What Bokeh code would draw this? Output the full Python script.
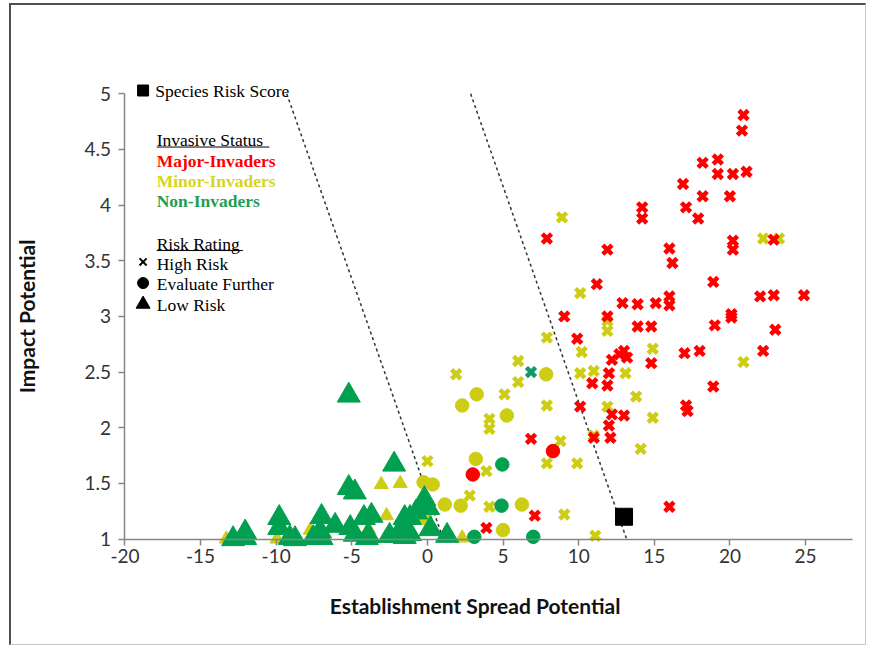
from bokeh.plotting import figure
from bokeh.models import Range1d, FixedTicker, Label
from bokeh.core.properties import value
from bokeh.embed import file_html
from bokeh.resources import INLINE

# ---------------- data ----------------
major_high_x = [20.9, 20.8, 18.2, 19.2, 19.2, 20.2, 21.1, 16.9, 18.2, 20.0, 14.2, 14.2, 17.1, 17.9,
                7.9, 11.9, 16.0, 16.2, 20.2, 20.2, 22.9, 11.2, 18.9, 22.0, 22.9, 24.9, 12.9, 13.9,
                15.1, 16.0, 16.0, 9.05, 11.9, 13.9, 14.8, 19.0, 20.1, 20.1, 23.0, 9.9, 13.0, 13.2,
                12.7, 12.2, 14.8, 17.0, 18.0, 22.2, 18.9, 12.0, 10.9, 11.9, 17.1, 17.2, 10.1, 12.2,
                13.0, 12.0, 12.1, 11.0, 6.85, 7.1, 16.0, 3.9]
major_high_y = [4.81, 4.67, 4.38, 4.41, 4.28, 4.28, 4.30, 4.19, 4.08, 4.08, 3.98, 3.88, 3.98, 3.88,
                3.70, 3.60, 3.61, 3.48, 3.68, 3.60, 3.69, 3.29, 3.31, 3.18, 3.19, 3.19, 3.12, 3.11,
                3.12, 3.18, 3.10, 3.00, 3.00, 2.91, 2.91, 2.92, 3.02, 2.99, 2.88, 2.80, 2.69, 2.63,
                2.66, 2.61, 2.58, 2.67, 2.69, 2.69, 2.37, 2.49, 2.40, 2.38, 2.20, 2.15, 2.19, 2.12,
                2.11, 2.02, 1.91, 1.91, 1.90, 1.21, 1.29, 1.10]

major_eval_x = [8.3, 3.0]
major_eval_y = [1.79, 1.58]

minor_high_x = [8.9, 22.2, 23.25, 10.1, 11.9, 11.9, 7.9, 10.2, 14.9, 6.0, 20.9, 1.9, 10.1, 11.0,
                13.1, 6.0, 5.1, 13.8, 7.9, 11.9, 14.9, 4.1, 4.1, 11.0, 8.8, 14.1, 7.9, 9.9, 0.0,
                3.9, 2.8, 4.1, 9.05, 11.1]
minor_high_y = [3.89, 3.70, 3.70, 3.21, 2.96, 2.87, 2.81, 2.68, 2.71, 2.60, 2.59, 2.48, 2.49, 2.51,
                2.49, 2.41, 2.30, 2.28, 2.20, 2.19, 2.09, 2.08, 1.99, 1.93, 1.88, 1.81, 1.68, 1.68,
                1.70, 1.61, 1.39, 1.29, 1.22, 1.03]

minor_eval_x = [7.85, 3.26, 2.3, 5.25, 3.2, -0.25, 0.35, 1.15, 2.2, 6.25, 5.0, -0.15]
minor_eval_y = [2.48, 2.30, 2.20, 2.11, 1.72, 1.51, 1.49, 1.31, 1.30, 1.31, 1.08, 1.19]

minor_low_x = [-3.05, -1.8, -2.7, 2.3, -13.3, -9.95, -7.75, -3.9, -2.8]
minor_low_y = [1.49, 1.50, 1.21, 1.01, 1.00, 1.00, 1.08, 1.09, 1.01]

non_high_x = [6.85]
non_high_y = [2.50]

non_eval_x = [4.95, 4.9, 3.1, 7.0]
non_eval_y = [1.67, 1.30, 1.02, 1.02]

non_low_x = [-5.2, -2.2, -5.2, -4.8, -0.2, 0.05, 1.3, 0.2, -1.15, -0.75, -1.5, -1.6, -1.15, -2.5,
             -2.0, -1.5, -4.2, -3.7, -6.1, -5.1, -4.8, -4.0, -3.9, -7.0, -7.1, -7.55, -7.0, -9.1,
             -8.75, -9.8, -9.8, -12.05, -12.05, -12.85]
non_low_y = [2.29, 1.67, 1.46, 1.42, 1.36, 1.28, 1.03, 1.09, 1.19, 1.24, 1.19, 1.07, 1.045, 1.03,
             1.03, 1.02, 1.19, 1.21, 1.12, 1.10, 1.04, 1.01, 1.03, 1.20, 1.07, 1.01, 1.01, 1.01,
             1.00, 1.19, 1.10, 1.06, 1.01, 1.00]

species_x = [13.0]
species_y = [1.2]

# threshold lines (risk zones)
line1_x = [-9.3, 1.05]
line1_y = [5.0, 1.0]
line2_x = [2.86, 13.17]
line2_y = [5.0, 1.0]

x_ticks = [-20, -15, -10, -5, 0, 5, 10, 15, 20, 25]
x_tick_labels = ["-20", "-15", "-10", "-5", "0", "5", "10", "15", "20", "25"]
y_ticks = [1, 1.5, 2, 2.5, 3, 3.5, 4, 4.5, 5]
y_tick_labels = ["1", "1.5", "2", "2.5", "3", "3.5", "4", "4.5", "5"]

RED = "#FF0000"
YEL = "#CDCD14"
GRN = "#00A050"

# ---------------- figure ----------------
p = figure(width=857, height=642, output_backend="svg", toolbar_location=None,
           x_range=Range1d(-27.5, 28.9), y_range=Range1d(0.25, 5.65),
           min_border_left=0, min_border_right=4, min_border_top=16, min_border_bottom=25)
p.styles = {"margin-left": "9px", "margin-top": "3px",
            "border-left": "2px solid #505050", "border-top": "2px solid #505050",
            "border-right": "1px solid #c8c8c8", "border-bottom": "1px solid #c8c8c8"}
p.outline_line_color = None
p.xgrid.visible = False
p.ygrid.visible = False
p.background_fill_color = "white"
p.border_fill_color = "white"

for ax in (p.xaxis[0], p.yaxis[0]):
    ax.axis_line_color = "#868686"
    ax.axis_line_width = 1.5
    ax.major_tick_line_color = "#868686"
    ax.major_tick_line_width = 1.5
    ax.major_tick_in = 0
    ax.major_tick_out = 6
    ax.minor_tick_line_color = None
    ax.major_label_text_font = "Lato"
    ax.major_label_text_font_size = "19px"
    ax.major_label_text_color = "#333333"
    ax.axis_label_text_font = "Lato"
    ax.axis_label_text_font_size = "21px"
    ax.axis_label_text_font_style = "bold"
    ax.axis_label_text_color = "#111111"

p.xaxis.ticker = FixedTicker(ticks=x_ticks)
p.xaxis.major_label_overrides = {t: l for t, l in zip(x_ticks, x_tick_labels)}
p.yaxis.ticker = FixedTicker(ticks=y_ticks)
p.yaxis.major_label_overrides = {t: l for t, l in zip(y_ticks, y_tick_labels)}
p.xaxis.bounds = (-20, 28.1)
p.yaxis.bounds = (1, 5)
p.xaxis.fixed_location = 1
p.yaxis.fixed_location = -20
p.yaxis.axis_label = "Impact Potential"
p.xaxis.major_label_standoff = 4
p.yaxis.major_label_standoff = 8
p.yaxis.axis_label_standoff = 42

p.add_layout(Label(x=3.15, y=0.40, text="Establishment Spread Potential",
                   text_font="Lato", text_font_size="21px", text_font_style="bold",
                   text_color="#111111", text_align="center", text_baseline="middle"))

# threshold lines
p.line(line1_x, line1_y, line_color="#333333", line_width=1.5, line_dash="3 3")
p.line(line2_x, line2_y, line_color="#333333", line_width=1.5, line_dash="3 3")

# yellow (minor invaders)
p.scatter(minor_low_x, minor_low_y, marker="triangle", size=14, color=YEL)
p.scatter(minor_eval_x, minor_eval_y, marker="circle", size=13.5, color=YEL)
p.scatter(minor_high_x, minor_high_y, marker="x", size=13, line_color=YEL, line_width=4.5)
# red (major invaders)
p.scatter(major_eval_x, major_eval_y, marker="circle", size=13.5, color=RED)
p.scatter(major_high_x, major_high_y, marker="x", size=13, line_color=RED, line_width=4.5)
# green (non invaders)
p.scatter(non_low_x, non_low_y, marker="triangle", size=23, color=GRN)
p.scatter(non_eval_x, non_eval_y, marker="circle", size=13.5, color=GRN)
p.scatter(non_high_x, non_high_y, marker="x", size=13, line_color="#13996A", line_width=4.5)

# species risk score
p.scatter(species_x, species_y, marker="square", size=17, color="black")

# ---------------- legend (drawn as text) ----------------
LX_M = -18.8
LX_T = -17.9
FS = "17.5px"
serif = value("Liberation Serif")
p.scatter([LX_M], [5.03], marker="square", size=11, color="black")
p.text([LX_T - 0.1], [5.03], text=["Species Risk Score"], text_font=serif, text_font_size=FS,
       text_baseline="middle", text_color="black")
p.text([LX_T], [4.584], text=["Invasive Status"], text_font=serif, text_font_size=FS,
       text_baseline="middle", text_color="black")
p.segment([LX_T], [4.522], [-10.45], [4.522], line_color="black", line_width=1)
p.text([LX_T], [4.40], text=["Major-Invaders"], text_font=serif, text_font_size=FS,
       text_font_style="bold", text_baseline="middle", text_color=RED)
p.text([LX_T], [4.22], text=["Minor-Invaders"], text_font=serif, text_font_size=FS,
       text_font_style="bold", text_baseline="middle", text_color="#D6D620")
p.text([LX_T], [4.04], text=["Non-Invaders"], text_font=serif, text_font_size=FS,
       text_font_style="bold", text_baseline="middle", text_color="#1E9E55")
p.text([LX_T], [3.65], text=["Risk Rating"], text_font=serif, text_font_size=FS,
       text_baseline="middle", text_color="black")
p.segment([LX_T], [3.592], [-12.2], [3.592], line_color="black", line_width=1)
p.scatter([LX_M], [3.49], marker="x", size=10, line_color="black", line_width=2)
p.text([LX_T], [3.475], text=["High Risk"], text_font=serif, text_font_size=FS,
       text_baseline="middle", text_color="black")
p.scatter([LX_M], [3.30], marker="circle", size=11, color="black")
p.text([LX_T], [3.29], text=["Evaluate Further"], text_font=serif, text_font_size=FS,
       text_baseline="middle", text_color="black")
p.scatter([LX_M], [3.11], marker="triangle", size=14, color="black")
p.text([LX_T], [3.10], text=["Low Risk"], text_font=serif, text_font_size=FS,
       text_baseline="middle", text_color="black")

open("out.html", "w").write(file_html(p, INLINE))
